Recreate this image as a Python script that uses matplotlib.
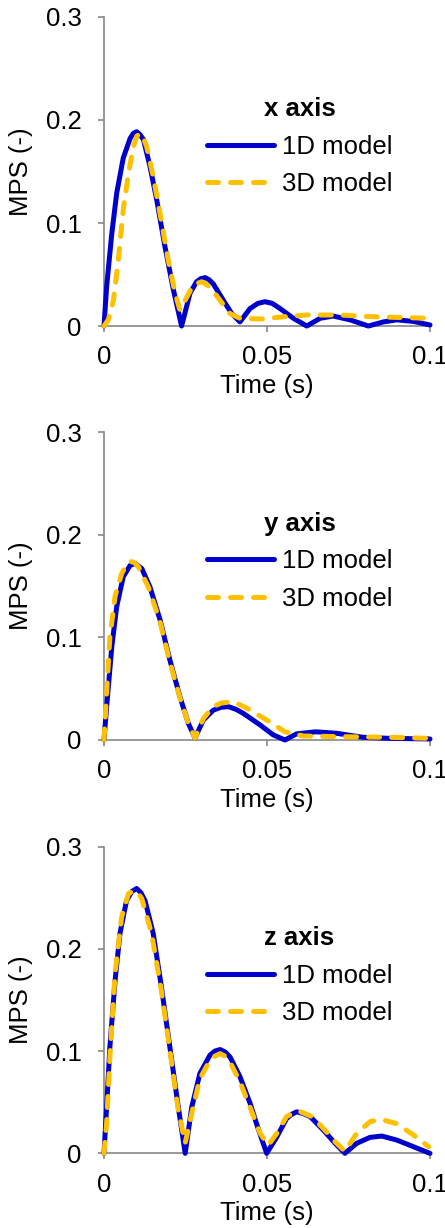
import matplotlib
matplotlib.use('Agg')
import matplotlib.pyplot as plt

plt.rcParams['font.family'] = ['Liberation Sans', 'DejaVu Sans']

# ---- data ----
# x axis
x_t_1d = [0, 0.0008, 0.0024, 0.0039, 0.0059, 0.0080, 0.0090, 0.0100, 0.0110, 0.0121, 0.0141, 0.0162, 0.0187,
          0.0213, 0.0238, 0.0264, 0.0284, 0.0297, 0.0310, 0.0322, 0.0335, 0.0366, 0.0392, 0.0417, 0.0448,
          0.0472, 0.0494, 0.0516, 0.0540, 0.0581, 0.0622, 0.0663, 0.0703, 0.0755, 0.0811, 0.0857, 0.0898,
          0.0949, 0.1]
x_v_1d = [0, 0.038, 0.090, 0.129, 0.163, 0.182, 0.187, 0.1886, 0.186, 0.181, 0.155, 0.122, 0.077,
          0.035, 0.0, 0.032, 0.043, 0.046, 0.047, 0.045, 0.041, 0.025, 0.012, 0.004, 0.017,
          0.022, 0.0236, 0.022, 0.017, 0.0075, 0.0, 0.0075, 0.0097, 0.006, 0.0, 0.004, 0.006,
          0.0045, 0.001]
x_t_3d = [0, 0.0013, 0.0029, 0.0044, 0.0059, 0.0075, 0.0090, 0.0100, 0.0110, 0.0120, 0.0131, 0.0151, 0.0172,
          0.0197, 0.0218, 0.0233, 0.0254, 0.0274, 0.0300, 0.0325, 0.0356, 0.0387, 0.0417, 0.0489, 0.0550,
          0.0622, 0.0724, 0.0826, 0.1]
x_v_3d = [0, 0.006, 0.025, 0.064, 0.113, 0.148, 0.174, 0.184, 0.187, 0.183, 0.174, 0.145, 0.109,
          0.064, 0.032, 0.0155, 0.028, 0.040, 0.043, 0.038, 0.025, 0.012, 0.0075, 0.0068, 0.009,
          0.0107, 0.0107, 0.009, 0.0075]

# y axis
y_t_1d = [0, 0.0008, 0.0024, 0.0039, 0.0059, 0.0080, 0.0095, 0.0116, 0.0141, 0.0172, 0.0202, 0.0233, 0.0259,
          0.0279, 0.0305, 0.0335, 0.0358, 0.0381, 0.0404, 0.0427, 0.0479, 0.0519, 0.0555, 0.0591, 0.0650,
          0.0714, 0.0795, 0.0877, 0.1]
y_v_1d = [0, 0.032, 0.091, 0.130, 0.159, 0.170, 0.172, 0.167, 0.149, 0.117, 0.078, 0.042, 0.016,
          0.002, 0.0195, 0.029, 0.0318, 0.0325, 0.030, 0.026, 0.0146, 0.005, 0.0, 0.006, 0.008,
          0.0065, 0.0026, 0.0016, 0.001]
y_t_3d = [0, 0.0008, 0.0018, 0.0034, 0.0054, 0.0068, 0.0080, 0.0092, 0.0105, 0.0136, 0.0172, 0.0202, 0.0233,
          0.0259, 0.0279, 0.0305, 0.0335, 0.0360, 0.0387, 0.0412, 0.0438, 0.0499, 0.0555, 0.0611, 0.0734,
          0.0877, 0.1]
y_v_3d = [0, 0.045, 0.100, 0.140, 0.162, 0.170, 0.174, 0.173, 0.169, 0.149, 0.115, 0.076, 0.041,
          0.016, 0.002, 0.021, 0.0325, 0.036, 0.037, 0.035, 0.031, 0.0195, 0.008, 0.0039, 0.0032,
          0.0026, 0.0016]

# z axis
z_t_1d = [0, 0.0008, 0.0018, 0.0034, 0.0049, 0.0069, 0.0085, 0.0100, 0.0113, 0.0126, 0.0151, 0.0176, 0.0202,
          0.0228, 0.0249, 0.0269, 0.0294, 0.0325, 0.0340, 0.0356, 0.0372, 0.0387, 0.0417, 0.0448, 0.0473,
          0.0499, 0.0530, 0.0560, 0.0575, 0.0591, 0.0610, 0.0632, 0.0673, 0.0709, 0.0739, 0.0775, 0.0816,
          0.0852, 0.0898, 0.0949, 0.1]
z_v_1d = [0, 0.045, 0.104, 0.169, 0.215, 0.247, 0.256, 0.259, 0.255, 0.247, 0.215, 0.163, 0.104,
          0.045, 0.0, 0.045, 0.078, 0.096, 0.100, 0.1015, 0.099, 0.094, 0.075, 0.049, 0.024,
          0.0, 0.016, 0.034, 0.038, 0.0406, 0.039, 0.036, 0.0227, 0.0098, 0.0, 0.0098, 0.0156,
          0.0169, 0.013, 0.0065, 0.0]
z_t_3d = [0, 0.0008, 0.0018, 0.0034, 0.0054, 0.0075, 0.0092, 0.0104, 0.0116, 0.0146, 0.0176, 0.0202, 0.0228,
          0.0249, 0.0269, 0.0294, 0.0325, 0.0340, 0.0356, 0.0372, 0.0387, 0.0417, 0.0448, 0.0479, 0.0504,
          0.0530, 0.0560, 0.0596, 0.0637, 0.0673, 0.0709, 0.0739, 0.0775, 0.0816, 0.0852, 0.0898, 0.0949,
          0.0996]
z_v_3d = [0, 0.029, 0.094, 0.176, 0.231, 0.254, 0.257, 0.255, 0.249, 0.215, 0.159, 0.101, 0.042,
          0.010, 0.039, 0.073, 0.091, 0.095, 0.0975, 0.095, 0.089, 0.070, 0.045, 0.0195, 0.008,
          0.0195, 0.036, 0.0416, 0.036, 0.0244, 0.0113, 0.002, 0.0195, 0.031, 0.033, 0.029, 0.018,
          0.0065]

titles = ['x axis', 'y axis', 'z axis']
panels = [(x_t_1d, x_v_1d, x_t_3d, x_v_3d),
          (y_t_1d, y_v_1d, y_t_3d, y_v_3d),
          (z_t_1d, z_v_1d, z_t_3d, z_v_3d)]

blue = '#0000CC'
gold = '#FFC000'
grey = '#888888'
fs = 18.5

fig = plt.figure(figsize=(4.45, 12.28), dpi=100)
# [left, bottom, width, height] in figure fraction
rects = [[0.2337, 0.7345, 0.7326, 0.2517],
         [0.2337, 0.3974, 0.7326, 0.2508],
         [0.2337, 0.0608, 0.7326, 0.2498]]

for rect, title, (t1, v1, t3, v3) in zip(rects, titles, panels):
    ax = fig.add_axes(rect)
    ax.plot(t1, v1, color=blue, lw=3.6, solid_capstyle='round', solid_joinstyle='round',
            label='1D model', clip_on=False, zorder=3)
    ax.plot(t3, v3, color=gold, lw=3.6, dashes=(2.2, 2.4), dash_capstyle='round',
            dash_joinstyle='round', label='3D model', clip_on=False, zorder=4)

    ax.set_xlim(0, 0.1)
    ax.set_ylim(0, 0.3)
    ax.set_xticks([0, 0.05, 0.1])
    ax.set_xticklabels(['0', '0.05', '0.1'])
    ax.set_yticks([0, 0.1, 0.2, 0.3])
    ax.set_yticklabels(['0', '0.1', '0.2', '0.3'])

    for side in ['top', 'right']:
        ax.spines[side].set_visible(False)
    for side in ['left', 'bottom']:
        ax.spines[side].set_color(grey)
        ax.spines[side].set_linewidth(1.2)
    ax.tick_params(axis='both', direction='out', length=4, width=1.2, color=grey,
                   labelsize=fs, labelcolor='black')
    ax.tick_params(axis='y', pad=12)
    ax.tick_params(axis='x', pad=10)

    ax.set_xlabel('Time (s)', fontsize=fs)
    ax.set_ylabel('MPS (-)', fontsize=fs)
    ax.xaxis.set_label_coords(0.5, -0.155)
    ax.yaxis.set_label_coords(-0.218, 0.5)

    leg = ax.legend(title=title, loc='upper left', bbox_to_anchor=(0.316, 0.741),
                    frameon=False, fontsize=fs, title_fontproperties={'weight': 'bold', 'size': fs},
                    handlelength=2.6, handletextpad=0.3, labelspacing=0.53,
                    borderpad=0, borderaxespad=0)

fig.savefig('out.png', dpi=100)
